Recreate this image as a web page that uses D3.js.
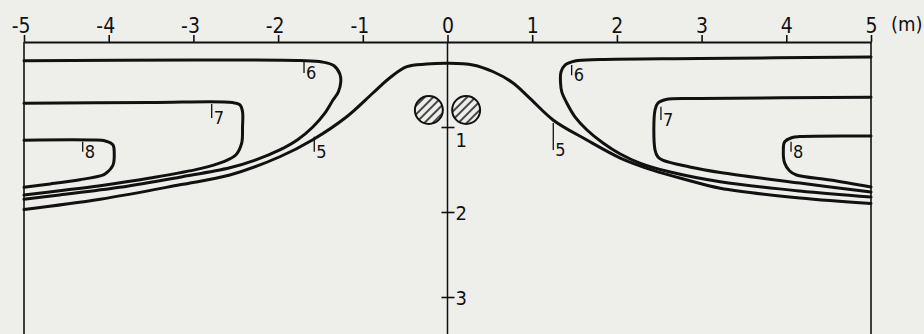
<!DOCTYPE html>
<html>
<head>
<meta charset="utf-8">
<script src="https://cdn.jsdelivr.net/npm/d3@7"></script>
<style>
  html, body { margin: 0; padding: 0; background: #eeeeeb; }
  svg { display: block; }
  text { font-family: "DejaVu Sans Condensed", "DejaVu Sans", sans-serif; fill: #111; }
</style>
</head>
<body>
<svg id="chart" width="924" height="334"></svg>
<script>
// Horizontal distance (m) and depth (m) of the soil section
const xTicks = [-5, -4, -3, -2, -1, 0, 1, 2, 3, 4, 5];
const xTickLabels = ["-5", "-4", "-3", "-2", "-1", "0", "1", "2", "3", "4", "5"];
const depthTicks = [1, 2, 3];
const depthTickLabels = ["1", "2", "3"];
const unitLabel = "(m)";

// Two buried cables: centre x (m), depth (m), radius (m)
const cableX = [-0.22, 0.22];
const cableDepth = [0.80, 0.80];
const cableRadius = 0.165;

// Isoline 5: one open curve across the whole section, [x, depth]
const iso5 = [
  [-5, 1.97], [-4.10, 1.85], [-3.16, 1.68], [-2.57, 1.565], [-1.98, 1.35],
  [-1.59, 1.15], [-1.19, 0.88], [-0.88, 0.60], [-0.68, 0.42], [-0.48, 0.29],
  [-0.25, 0.26], [0, 0.25], [0.30, 0.27], [0.54, 0.35], [0.77, 0.48],
  [0.97, 0.66], [1.25, 0.92], [1.64, 1.15], [2.04, 1.365], [2.43, 1.51],
  [2.82, 1.62], [3.22, 1.72], [4.16, 1.835], [5, 1.90]
];

// Isolines 6, 7, 8: tongues open to the left and right edges
const iso6Left = [
  [-5, 0.22], [-3.0, 0.212], [-1.74, 0.218], [-1.48, 0.235], [-1.34, 0.28],
  [-1.27, 0.38], [-1.26, 0.47], [-1.29, 0.59], [-1.35, 0.68], [-1.45, 0.84],
  [-1.59, 1.00], [-1.77, 1.15], [-1.98, 1.27], [-2.27, 1.39], [-2.57, 1.48],
  [-3.16, 1.59], [-3.87, 1.71], [-4.58, 1.80], [-5, 1.85]
];
const iso7Left = [
  [-5, 0.72], [-3.5, 0.712], [-2.54, 0.712], [-2.45, 0.74], [-2.42, 0.82],
  [-2.42, 1.00], [-2.43, 1.19], [-2.50, 1.33], [-2.65, 1.41], [-2.92, 1.49],
  [-3.51, 1.60], [-4.10, 1.69], [-4.58, 1.75], [-5, 1.80]
];
const iso8Left = [
  [-5, 1.155], [-4.20, 1.153], [-4.04, 1.165], [-3.95, 1.21], [-3.935, 1.30],
  [-3.95, 1.45], [-4.04, 1.55], [-4.10, 1.575], [-4.34, 1.62], [-4.69, 1.67],
  [-5, 1.71]
];
const iso6Right = [
  [5, 0.176], [2.98, 0.194], [1.80, 0.206], [1.505, 0.224], [1.39, 0.27],
  [1.34, 0.353], [1.334, 0.47], [1.35, 0.59], [1.41, 0.72], [1.505, 0.88],
  [1.647, 1.035], [1.836, 1.188], [2.04, 1.318], [2.27, 1.424], [2.63, 1.53],
  [3.22, 1.644], [4.16, 1.753], [5, 1.824]
];
const iso7Right = [
  [5, 0.651], [2.98, 0.665], [2.58, 0.676], [2.485, 0.718], [2.45, 0.80],
  [2.45, 1.27], [2.485, 1.353], [2.54, 1.39], [2.86, 1.47], [3.22, 1.535],
  [4.16, 1.66], [5, 1.765]
];
const iso8Right = [
  [5, 1.106], [4.16, 1.112], [4.07, 1.124], [3.98, 1.176], [3.965, 1.27],
  [3.98, 1.424], [4.04, 1.518], [4.12, 1.565], [4.52, 1.624], [5, 1.706]
];

// Isoline labels: value, x (m), leader from depth d0 to d1 (m)
const isoLabels = [
  { v: "6", x: -1.694, d0: 0.232, d1: 0.365 },
  { v: "7", x: -2.784, d0: 0.73, d1: 0.894 },
  { v: "8", x: -4.307, d0: 1.173, d1: 1.29 },
  { v: "5", x: -1.573, d0: 1.114, d1: 1.29 },
  { v: "6", x: 1.466, d0: 0.27, d1: 0.39 },
  { v: "7", x: 2.52, d0: 0.761, d1: 0.918 },
  { v: "5", x: 1.249, d0: 0.953, d1: 1.27 },
  { v: "8", x: 4.056, d0: 1.173, d1: 1.29 }
];

const svg = d3.select("#chart");
const W = 924, H = 334;

const x = d3.scaleLinear().domain([-5, 5]).range([24, 871]);
const y = d3.scaleLinear().domain([0, 3]).range([42, 297]);

const ink = "#111";

// Hatch pattern for the cable cross-sections
const defs = svg.append("defs");
defs.append("pattern")
  .attr("id", "hatch")
  .attr("patternUnits", "userSpaceOnUse")
  .attr("width", 6).attr("height", 6)
  .attr("patternTransform", "rotate(45)")
  .append("line")
  .attr("x1", 3).attr("y1", 0).attr("x2", 3).attr("y2", 6)
  .attr("stroke", ink).attr("stroke-width", 1.5);

// Frame: side edges and the depth axis run down to the bottom
[x(-5), x(5)].forEach(px => {
  svg.append("line")
    .attr("x1", px).attr("x2", px).attr("y1", y(0)).attr("y2", H)
    .attr("stroke", ink).attr("stroke-width", 1.6);
});
svg.append("line")
  .attr("x1", x(0)).attr("x2", x(0)).attr("y1", y(0)).attr("y2", H)
  .attr("stroke", ink).attr("stroke-width", 1.5);

// Top distance axis
const xAxis = d3.axisTop(x)
  .tickValues(xTicks)
  .tickFormat((d, i) => xTickLabels[i])
  .tickSize(7)
  .tickSizeOuter(0);
const gx = svg.append("g").attr("transform", `translate(0,${y(0)})`).call(xAxis);
gx.select(".domain").attr("stroke", ink).attr("stroke-width", 2);
gx.selectAll(".tick line").attr("stroke", ink).attr("stroke-width", 1.6);
gx.selectAll(".tick text")
  .attr("fill", ink)
  .attr("font-size", 21)
  .attr("font-family", "DejaVu Sans Condensed, DejaVu Sans, sans-serif")
  .attr("text-anchor", "end")
  .attr("x", 6)
  .attr("y", -9)
  .attr("dy", 0);

svg.append("text")
  .attr("x", 891).attr("y", 31)
  .attr("font-size", 20)
  .text(unitLabel);

// Depth axis ticks crossing the centre line
const yAxis = d3.axisRight(y)
  .tickValues(depthTicks)
  .tickFormat((d, i) => depthTickLabels[i])
  .tickSize(7)
  .tickSizeOuter(0);
const gy = svg.append("g").attr("transform", `translate(${x(0)},0)`).call(yAxis);
gy.select(".domain").remove();
gy.selectAll(".tick line").attr("x1", -6).attr("x2", 7)
  .attr("stroke", ink).attr("stroke-width", 1.6);
gy.selectAll(".tick text")
  .attr("fill", ink)
  .attr("font-size", 20)
  .attr("font-family", "DejaVu Sans Condensed, DejaVu Sans, sans-serif")
  .attr("x", 8)
  .attr("dy", (d) => d === 1 ? "0.95em" : "0.35em");

// Isolines
const line = d3.line()
  .x(d => x(d[0]))
  .y(d => y(d[1]))
  .curve(d3.curveCatmullRom.alpha(0.5));

const isolines = [iso5, iso6Left, iso7Left, iso8Left, iso6Right, iso7Right, iso8Right];
svg.append("g")
  .selectAll("path")
  .data(isolines)
  .join("path")
  .attr("d", line)
  .attr("fill", "none")
  .attr("stroke", ink)
  .attr("stroke-width", 3)
  .attr("stroke-linecap", "round")
  .attr("stroke-linejoin", "round");

// Cables
svg.append("g")
  .selectAll("circle")
  .data(cableX.map((cx, i) => [cx, cableDepth[i]]))
  .join("circle")
  .attr("cx", d => x(d[0]))
  .attr("cy", d => y(d[1]))
  .attr("r", (x(cableRadius) - x(0)))
  .attr("fill", "url(#hatch)")
  .attr("stroke", ink)
  .attr("stroke-width", 2);

// Isoline value labels with leader ticks
const lab = svg.append("g").selectAll("g").data(isoLabels).join("g");
lab.append("line")
  .attr("x1", d => x(d.x)).attr("x2", d => x(d.x))
  .attr("y1", d => y(d.d0)).attr("y2", d => y(d.d1))
  .attr("stroke", ink).attr("stroke-width", 1.3);
lab.append("text")
  .attr("x", d => x(d.x) + 2)
  .attr("y", d => y(d.d1) + 6)
  .attr("font-size", 18)
  .text(d => d.v);
</script>
</body>
</html>
